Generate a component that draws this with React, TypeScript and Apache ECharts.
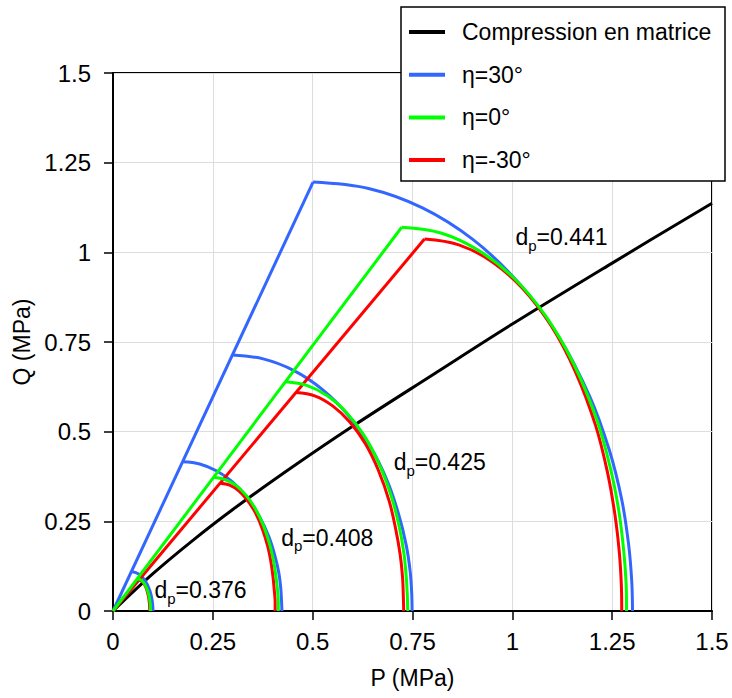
import React, { useEffect, useRef } from "react";
import * as echarts from "echarts";

const FONT = "'Liberation Sans', Arial, Helvetica, sans-serif";
const BLUE = "#3366ff";
const GREEN = "#00ff00";
const RED = "#ff0000";
const BLACK = "#000000";

const legendNames = ["Compression en matrice", "η=30°", "η=0°", "η=-30°"];

// Compression en matrice (P, Q)
const matrixCompression = [
  [0, 0], [0.1, 0.104], [0.2, 0.197], [0.3, 0.283], [0.45, 0.402], [0.6, 0.515],
  [0.8, 0.658], [1.0, 0.8], [1.25, 0.97], [1.5, 1.137],
];

// cone lines from origin to the outermost peak
const cone30 = [[0, 0], [0.501, 1.196]];
const cone0 = [[0, 0], [0.723, 1.07]];
const coneM30 = [[0, 0], [0.78, 1.037]];

// caps, eta = 30°
const cap30_376 = [[0.046, 0.11], [0.0645, 0.1034], [0.0807, 0.0843], [0.0928, 0.055], [0.0982, 0.0285], [0.0999, 0.0077], [0.1, 0]];
const cap30_408 = [[0.174, 0.416], [0.217, 0.41], [0.259, 0.391], [0.299, 0.36], [0.334, 0.319], [0.365, 0.267], [0.39, 0.208], [0.405, 0.156], [0.415, 0.108], [0.42, 0.065], [0.422, 0.029], [0.423, 0]];
const cap30_425 = [[0.298, 0.714], [0.376, 0.703], [0.452, 0.671], [0.524, 0.618], [0.588, 0.547], [0.644, 0.459], [0.689, 0.357], [0.716, 0.267], [0.734, 0.185], [0.744, 0.112], [0.748, 0.05], [0.749, 0]];
const cap30_441 = [[0.501, 1.196], [0.64, 1.178], [0.775, 1.124], [0.901, 1.036], [1.015, 0.916], [1.114, 0.769], [1.194, 0.598], [1.243, 0.448], [1.274, 0.31], [1.291, 0.187], [1.299, 0.083], [1.301, 0]];

// caps, eta = 0°
const cap0_376 = [[0.061, 0.09], [0.0723, 0.0846], [0.0822, 0.0689], [0.0896, 0.045], [0.0929, 0.0233], [0.0939, 0.0063], [0.094, 0]];
const cap0_408 = [[0.251, 0.373], [0.279, 0.367], [0.307, 0.351], [0.333, 0.323], [0.356, 0.286], [0.376, 0.24], [0.392, 0.187], [0.402, 0.14], [0.408, 0.097], [0.412, 0.058], [0.414, 0.026], [0.414, 0]];
const cap0_425 = [[0.432, 0.639], [0.485, 0.629], [0.537, 0.6], [0.585, 0.553], [0.629, 0.489], [0.666, 0.411], [0.697, 0.32], [0.716, 0.239], [0.728, 0.165], [0.734, 0.1], [0.737, 0.045], [0.738, 0]];
const cap0_441 = [[0.723, 1.07], [0.821, 1.054], [0.916, 1.005], [1.005, 0.927], [1.085, 0.82], [1.154, 0.688], [1.211, 0.535], [1.245, 0.401], [1.267, 0.277], [1.279, 0.167], [1.285, 0.075], [1.286, 0]];

// caps, eta = -30°
const capM30_376 = [[0.065, 0.086], [0.0742, 0.0808], [0.0824, 0.0659], [0.0884, 0.043], [0.0911, 0.0223], [0.0919, 0.006], [0.092, 0]];
const capM30_408 = [[0.268, 0.356], [0.292, 0.351], [0.315, 0.335], [0.337, 0.308], [0.357, 0.273], [0.374, 0.229], [0.388, 0.178], [0.396, 0.133], [0.401, 0.092], [0.404, 0.056], [0.406, 0.025], [0.406, 0]];
const capM30_425 = [[0.458, 0.609], [0.505, 0.6], [0.55, 0.572], [0.593, 0.527], [0.632, 0.466], [0.665, 0.391], [0.692, 0.305], [0.708, 0.228], [0.719, 0.158], [0.725, 0.095], [0.727, 0.043], [0.728, 0]];
const capM30_441 = [[0.78, 1.037], [0.866, 1.021], [0.949, 0.974], [1.027, 0.898], [1.098, 0.794], [1.158, 0.667], [1.208, 0.519], [1.238, 0.388], [1.257, 0.268], [1.268, 0.162], [1.273, 0.072], [1.274, 0]];

// d_p annotations
const dpValues = ["0.376", "0.408", "0.425", "0.441"];
const dpAnchors = [[0.105, 0.056], [0.4225, 0.2035], [0.704, 0.413], [1.009, 1.04]];

function lineSeries(name: string, color: string, data: number[][], smooth: boolean) {
  return {
    type: "line",
    name,
    data,
    color,
    smooth: smooth ? 0.35 : false,
    symbol: "none",
    showSymbol: false,
    lineStyle: { color, width: 3 },
    itemStyle: { color },
    emphasis: { disabled: true },
    silent: true,
    z: 2,
  };
}

export default function App() {
  const ref = useRef<HTMLDivElement>(null);

  useEffect(() => {
    if (!ref.current) return;
    const chart = echarts.init(ref.current, null, { renderer: "svg" });

    const series: any[] = [
      lineSeries(legendNames[0], BLACK, matrixCompression, true),
      lineSeries(legendNames[1], BLUE, cone30, false),
      lineSeries(legendNames[1], BLUE, cap30_376, true),
      lineSeries(legendNames[1], BLUE, cap30_408, true),
      lineSeries(legendNames[1], BLUE, cap30_425, true),
      lineSeries(legendNames[1], BLUE, cap30_441, true),
      lineSeries(legendNames[3], RED, coneM30, false),
      lineSeries(legendNames[3], RED, capM30_376, true),
      lineSeries(legendNames[3], RED, capM30_408, true),
      lineSeries(legendNames[3], RED, capM30_425, true),
      lineSeries(legendNames[3], RED, capM30_441, true),
      lineSeries(legendNames[2], GREEN, cone0, false),
      lineSeries(legendNames[2], GREEN, cap0_376, true),
      lineSeries(legendNames[2], GREEN, cap0_408, true),
      lineSeries(legendNames[2], GREEN, cap0_425, true),
      lineSeries(legendNames[2], GREEN, cap0_441, true),
      {
        type: "scatter",
        name: "dp",
        silent: true,
        symbolSize: 1,
        itemStyle: { color: "#ffffff", opacity: 0 },
        emphasis: { disabled: true },
        data: dpAnchors.map((p, i) => ({
          value: p,
          label: { formatter: "{d|d}{s|p}{d|=" + dpValues[i] + "}" },
        })),
        label: {
          show: true,
          position: [0, 0],
          align: "left",
          verticalAlign: "middle",
          color: "#000",
          opacity: 1,
          textBorderWidth: 0,
          rich: {
            d: { fontSize: 23, fontFamily: FONT, color: "#000", opacity: 1 },
            s: { fontSize: 15, fontFamily: FONT, color: "#000", opacity: 1, padding: [16, 0, 0, 0] },
          },
        },
        z: 5,
      },
    ];

    const axisCommon = {
      type: "value",
      min: 0,
      max: 1.5,
      interval: 0.25,
      nameLocation: "middle",
      nameTextStyle: { fontSize: 23, fontFamily: FONT, color: "#000" },
      axisLine: { show: true, onZero: false, lineStyle: { color: "#000", width: 2 } },
      axisTick: { show: true, inside: false, length: 9, lineStyle: { color: "#000", width: 1.5 } },
      splitLine: { show: true, lineStyle: { color: "#dddddd", width: 1 } },
      minorTick: { show: false },
      minorSplitLine: { show: false },
    };

    chart.setOption({
      animation: false,
      backgroundColor: "#ffffff",
      textStyle: { fontFamily: FONT },
      grid: {
        left: 113,
        right: 20,
        top: 73,
        bottom: 87,
        show: true,
        borderColor: "#000",
        borderWidth: 2,
        backgroundColor: "transparent",
        containLabel: false,
      },
      xAxis: {
        ...axisCommon,
        name: "P (MPa)",
        nameGap: 55,
        axisLabel: { fontSize: 24, fontFamily: FONT, color: "#000", margin: 18 },
      },
      yAxis: {
        ...axisCommon,
        name: "Q (MPa)",
        nameGap: 72,
        axisLabel: { fontSize: 24, fontFamily: FONT, color: "#000", margin: 22 },
      },
      legend: {
        data: legendNames,
        orient: "vertical",
        left: 401,
        top: 7,
        padding: [13, 0, 0, 8],
        itemWidth: 36,
        itemHeight: 4,
        itemGap: 18.7,
        icon: "rect",
        selectedMode: false,
        z: 10,
        textStyle: { fontSize: 23, fontFamily: FONT, color: "#000", lineHeight: 24, padding: [0, 0, 0, 12] },
      },
      graphic: {
        elements: [
          {
            type: "rect",
            z: 8,
            silent: true,
            shape: { x: 401, y: 7, width: 324, height: 174 },
            style: { fill: "#ffffff", stroke: "#000000", lineWidth: 1.5 },
          },
        ],
      },
      series,
    });

    return () => chart.dispose();
  }, []);

  return (
    <div
      ref={ref}
      style={{ position: "absolute", left: 0, top: 0, width: 732, height: 698 }}
    />
  );
}
